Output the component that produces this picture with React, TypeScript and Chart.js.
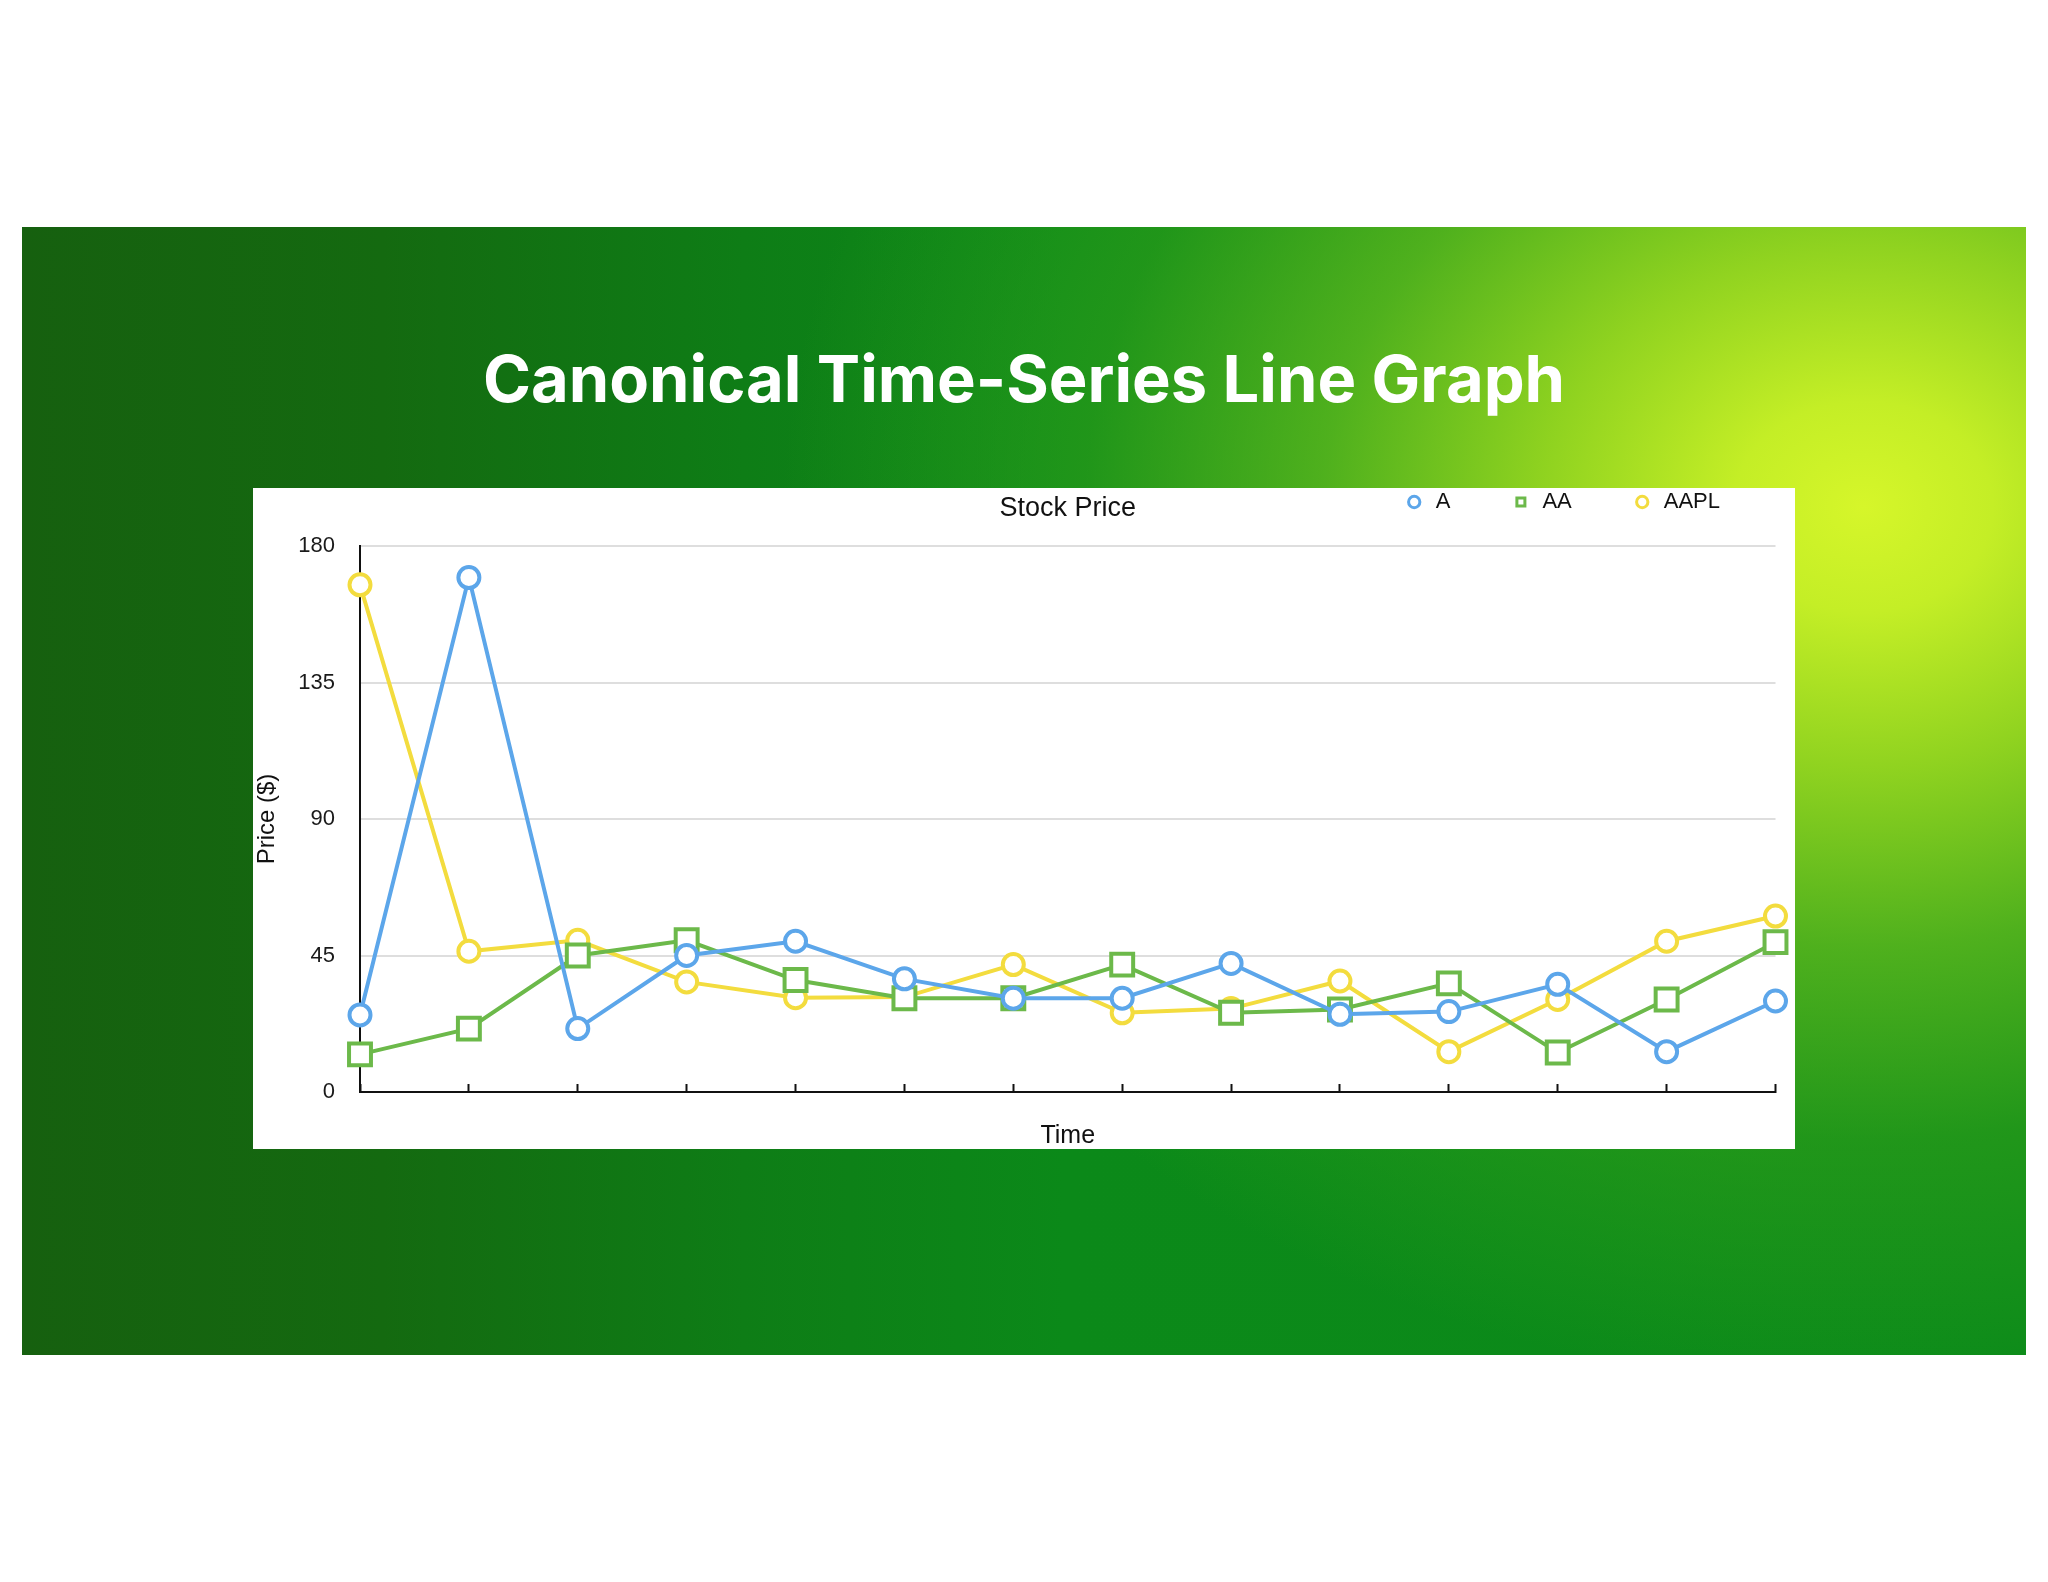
import React, { useEffect, useRef } from "react";
import { Chart, registerables } from "chart.js";

Chart.register(...registerables);

// ---- data ----
const pageTitle = "Canonical Time-Series Line Graph";
const chartTitle = "Stock Price";
const xAxisTitle = "Time";
const yAxisTitle = "Price ($)";

const timeLabels = ["t1", "t2", "t3", "t4", "t5", "t6", "t7", "t8", "t9", "t10", "t11", "t12", "t13", "t14"];
const seriesNames = ["A", "AA", "AAPL"];
const priceA = [25.4, 169.6, 20.9, 45, 49.7, 37.3, 30.9, 30.9, 42.4, 25.6, 26.5, 35.5, 13.3, 30];
const priceAA = [12.4, 20.9, 45, 50, 36.9, 30.9, 30.9, 42, 26.1, 27.2, 35.8, 13, 30.5, 49.4];
const priceAAPL = [167.2, 46.4, 50, 36.3, 31.1, 31.3, 42, 26.1, 27.5, 36.6, 13.3, 30.5, 49.7, 58];
const yTickValues = [0, 45, 90, 135, 180];

const FAM = '"Liberation Sans", Arial, Helvetica, sans-serif';

function makeSet(label: string, data: number[], color: string, style: string, radius: number) {
  return {
    label,
    data,
    borderColor: color,
    backgroundColor: "#ffffff",
    borderWidth: 4,
    pointStyle: style,
    pointRadius: radius,
    pointHoverRadius: radius,
    pointBorderWidth: 4,
    pointBackgroundColor: "#ffffff",
    pointBorderColor: color,
    tension: 0,
    fill: false,
  };
}

function StockChart() {
  const ref = useRef<HTMLCanvasElement | null>(null);
  useEffect(() => {
    const canvas = ref.current;
    if (!canvas) return;
    const chart = new Chart(canvas, {
      type: "line",
      data: {
        labels: timeLabels,
        datasets: [
          makeSet(seriesNames[0], priceA, "#5ca6ea", "circle", 10.5),
          makeSet(seriesNames[1], priceAA, "#6cb94a", "rect", 15.5),
          makeSet(seriesNames[2], priceAAPL, "#f3dc3e", "circle", 10.5),
        ] as any,
      },
      options: {
        responsive: false,
        animation: false,
        devicePixelRatio: 1,
        layout: { padding: { top: -57, left: 0, right: 15, bottom: 0 } },
        plugins: {
          tooltip: { enabled: false },
          legend: {
            display: true,
            position: "top",
            align: "end",
            fullSize: true,
            weight: 3000,
            maxHeight: 92,
            labels: {
              usePointStyle: true,
              boxWidth: 21,
              boxHeight: 8,
              padding: 60,
              color: "#111111",
              font: { family: FAM, size: 22, lineHeight: 1.2 },
              generateLabels: (c: any) =>
                (Chart.defaults.plugins.legend.labels as any)
                  .generateLabels(c)
                  .map((l: any) => ({ ...l, lineWidth: 3 })),
            },
          } as any,
          title: {
            display: true,
            text: chartTitle,
            position: "top",
            fullSize: false,
            weight: 2000,
            color: "#111111",
            font: { family: FAM, size: 27, weight: "normal", lineHeight: 1.2 },
            padding: { top: -30.7, bottom: 21.3 },
          } as any,
        },
        scales: {
          x: {
            type: "category",
            offset: false,
            afterFit: (s: any) => {
              s.height = 57;
            },
            grid: {
              display: true,
              drawOnChartArea: false,
              drawTicks: true,
              tickLength: -8,
              tickColor: "#111111",
              tickWidth: 2,
            },
            border: { display: true, color: "#111111", width: 2 },
            ticks: { display: false },
            title: {
              display: true,
              text: xAxisTitle,
              color: "#111111",
              font: { family: FAM, size: 25, lineHeight: 1.2 },
              padding: { top: 0, bottom: -2.5 },
            },
          },
          y: {
            min: 0,
            max: 180,
            afterFit: (s: any) => {
              s.width = 107;
            },
            afterBuildTicks: (s: any) => {
              s.ticks = yTickValues.map((v) => ({ value: v }));
            },
            grid: {
              display: true,
              drawTicks: false,
              color: "#dedede",
              lineWidth: 2,
            },
            border: { display: true, color: "#111111", width: 2 },
            ticks: {
              padding: 25,
              color: "#1a1a1a",
              font: { family: FAM, size: 22, lineHeight: 1.2 },
            },
            title: {
              display: true,
              text: yAxisTitle,
              color: "#111111",
              font: { family: FAM, size: 24, lineHeight: 1.2 },
              padding: { top: 0, bottom: 0 },
            },
          },
        },
      } as any,
    });
    return () => chart.destroy();
  }, []);
  return <canvas ref={ref} width={1542} height={661} style={{ display: "block", width: 1542, height: 661 }} />;
}

export default function App() {
  return (
    <div
      style={{
        position: "absolute",
        left: 0,
        top: 0,
        width: 2048,
        height: 1582,
        background: "#ffffff",
        overflow: "hidden",
      }}
    >
      <div
        style={{
          position: "absolute",
          left: 22,
          top: 227,
          width: 2004,
          height: 1128,
          background:
            "radial-gradient(ellipse 1080px 880px at 1841px 280px, rgba(214,246,42,1) 0%, rgba(196,238,38,1) 12%, rgba(150,214,32,0.95) 30%, rgba(96,186,30,0.8) 50%, rgba(50,160,26,0.55) 72%, rgba(12,138,26,0) 100%), linear-gradient(90deg, #16600f 0%, #146a10 18%, #0e7d16 36%, #0b8919 52%, #0c8b1a 100%)",
        }}
      />
      <div
        style={{
          position: "absolute",
          left: 0,
          top: 340,
          width: 2048,
          textAlign: "center",
          color: "#ffffff",
          fontFamily: "Inter, 'Open Sans', sans-serif",
          fontWeight: 700,
          fontSize: 65,
          lineHeight: "78px",
        }}
      >
        {pageTitle}
      </div>
      <div
        style={{
          position: "absolute",
          left: 253,
          top: 488,
          width: 1542,
          height: 661,
          background: "#ffffff",
        }}
      >
        <StockChart />
      </div>
    </div>
  );
}
